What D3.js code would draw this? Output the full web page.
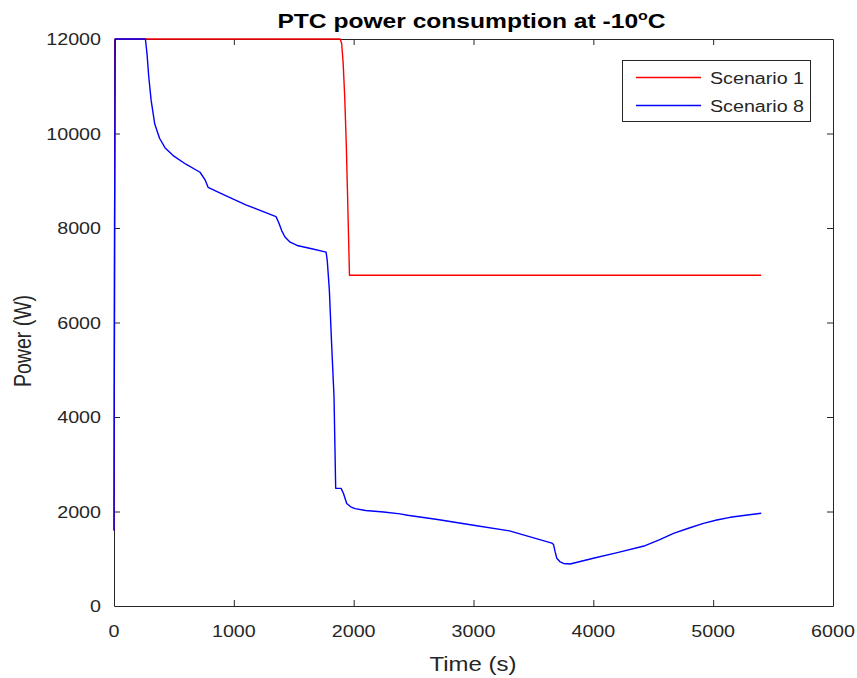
<!DOCTYPE html>
<html>
<head>
<meta charset="utf-8">
<script src="https://cdn.jsdelivr.net/npm/d3@7"></script>
<style>
  html, body { margin: 0; padding: 0; background: #fff; }
  svg { display: block; font-family: "Liberation Sans", Arial, Helvetica, sans-serif; }
</style>
</head>
<body>
<svg id="chart" width="857" height="678"></svg>
<script>
// Time (s) and PTC power (W) for each scenario
const scenario1Time  = [0, 5, 10, 1888, 1900, 1912, 1925, 1938, 1950, 1965, 5400];
const scenario1Power = [1600, 8000, 12000, 12000, 11900, 11500, 10800, 9800, 8600, 7000, 7000];

const scenario8Time  = [0, 5, 10, 262, 275, 290, 310, 340, 380, 425, 500, 600, 718, 760, 785,
  900, 1100, 1352, 1375, 1400, 1427, 1470, 1528, 1650, 1770, 1780, 1797, 1815, 1836, 1850,
  1895, 1915, 1942, 1975, 2012, 2100, 2250, 2387, 2450, 2700, 3000, 3300, 3654, 3668, 3680,
  3695, 3720, 3751, 3806, 4000, 4200, 4432, 4550, 4669, 4800, 4919, 5030, 5142, 5270, 5401];
const scenario8Power = [1600, 8000, 12000, 12000, 11700, 11200, 10700, 10200, 9900, 9700, 9520, 9350, 9180, 9020, 8860,
  8720, 8490, 8240, 8110, 7940, 7810, 7700, 7630, 7560, 7490, 7300, 6690, 5600, 4430, 2490,
  2490, 2380, 2170, 2100, 2060, 2020, 1990, 1950, 1920, 1830, 1710, 1590, 1330, 1300, 1160,
  1010, 940, 900, 890, 1010, 1130, 1276, 1400, 1538, 1650, 1750, 1820, 1877, 1920, 1962];

const series = [
  { name: "Scenario 1", color: "#ff0000", t: scenario1Time, p: scenario1Power },
  { name: "Scenario 8", color: "#0000ff", t: scenario8Time, p: scenario8Power }
];

const xTicks = [0, 1000, 2000, 3000, 4000, 5000, 6000];
const yTicks = [0, 2000, 4000, 6000, 8000, 10000, 12000];

const svg = d3.select("#chart");
const plotLeft = 114, plotRight = 833, plotTop = 39, plotBottom = 606;
const axisColor = "#262626";
// the figure is stretched horizontally, so text glyphs are widened to suit
const sx = 1.23;

const x = d3.scaleLinear().domain([0, 6000]).range([plotLeft, plotRight]);
const y = d3.scaleLinear().domain([0, 12000]).range([plotBottom, plotTop]);

const tickFmt = d3.format("d");

// Frame with inward ticks on all four sides
const gx = svg.append("g").attr("transform", `translate(0,${plotBottom})`)
  .call(d3.axisBottom(x).tickValues(xTicks).tickFormat("").tickSizeInner(-6).tickSizeOuter(0));
const gxt = svg.append("g").attr("transform", `translate(0,${plotTop})`)
  .call(d3.axisTop(x).tickValues(xTicks).tickFormat("").tickSizeInner(-6).tickSizeOuter(0));
const gy = svg.append("g").attr("transform", `translate(${plotLeft},0)`)
  .call(d3.axisLeft(y).tickValues(yTicks).tickFormat("").tickSizeInner(-6).tickSizeOuter(0));
const gyr = svg.append("g").attr("transform", `translate(${plotRight},0)`)
  .call(d3.axisRight(y).tickValues(yTicks).tickFormat("").tickSizeInner(-6).tickSizeOuter(0));

[gx, gxt, gy, gyr].forEach(g => {
  g.select(".domain").attr("stroke", axisColor).attr("stroke-width", 1);
  g.selectAll(".tick line").attr("stroke", axisColor);
  g.selectAll(".tick text").remove();
});
gx.selectAll(".tick").filter(d => d === 0 || d === 6000).select("line").remove();
gxt.selectAll(".tick").filter(d => d === 0 || d === 6000).select("line").remove();
gy.selectAll(".tick").filter(d => d === 0 || d === 12000).select("line").remove();
gyr.selectAll(".tick").filter(d => d === 0 || d === 12000).select("line").remove();

// Widened text helper
function label(parent, px, py, str, opts = {}) {
  const g = parent.append("g")
    .attr("transform", `translate(${px},${py}) scale(${sx},1)` + (opts.rotate ? ` rotate(${opts.rotate})` : ""));
  return g.append("text")
    .attr("text-anchor", opts.anchor || "middle")
    .attr("fill", opts.fill || axisColor)
    .style("font-size", (opts.size || 16) + "px")
    .style("font-weight", opts.weight || "normal")
    .text(str);
}

// Tick labels
xTicks.forEach(v => label(svg, x(v), 637, tickFmt(v), { size: 16 }));
yTicks.forEach(v => label(svg, 101, y(v) + 6, tickFmt(v), { size: 16, anchor: "end" }));

// Data lines
const line = d3.line().x(d => x(d[0])).y(d => y(d[1]));
series.forEach(s => {
  svg.append("path")
    .datum(s.t.map((t, i) => [t, s.p[i]]))
    .attr("fill", "none")
    .attr("stroke", s.color)
    .attr("stroke-width", 1.4)
    .attr("stroke-linejoin", "round")
    .attr("d", line);
});

// Axis labels
label(svg, 473, 671, "Time (s)", { size: 19.5 });
label(svg, 31, 341, "Power (W)", { size: 19.5, rotate: -90 });

// Title with superscript degree sign
const title = label(svg, 471.5, 28, "", { size: 20, weight: "bold", fill: "#000" });
title.append("tspan").text("PTC power consumption at -10");
title.append("tspan").attr("dy", -8).style("font-size", "13px").text("o");
title.append("tspan").attr("dy", 8).text("C");

// Legend
const lg = svg.append("g");
lg.append("rect")
  .attr("x", 622.5).attr("y", 60.5).attr("width", 188).attr("height", 61)
  .attr("fill", "#fff").attr("stroke", axisColor).attr("stroke-width", 1);
series.forEach((s, i) => {
  const yy = 77.5 + i * 28;
  lg.append("line").attr("x1", 636).attr("x2", 701).attr("y1", yy).attr("y2", yy)
    .attr("stroke", s.color).attr("stroke-width", 1.4);
  label(lg, 710, yy + 6, s.name, { size: 16, anchor: "start" });
});
</script>
</body>
</html>
